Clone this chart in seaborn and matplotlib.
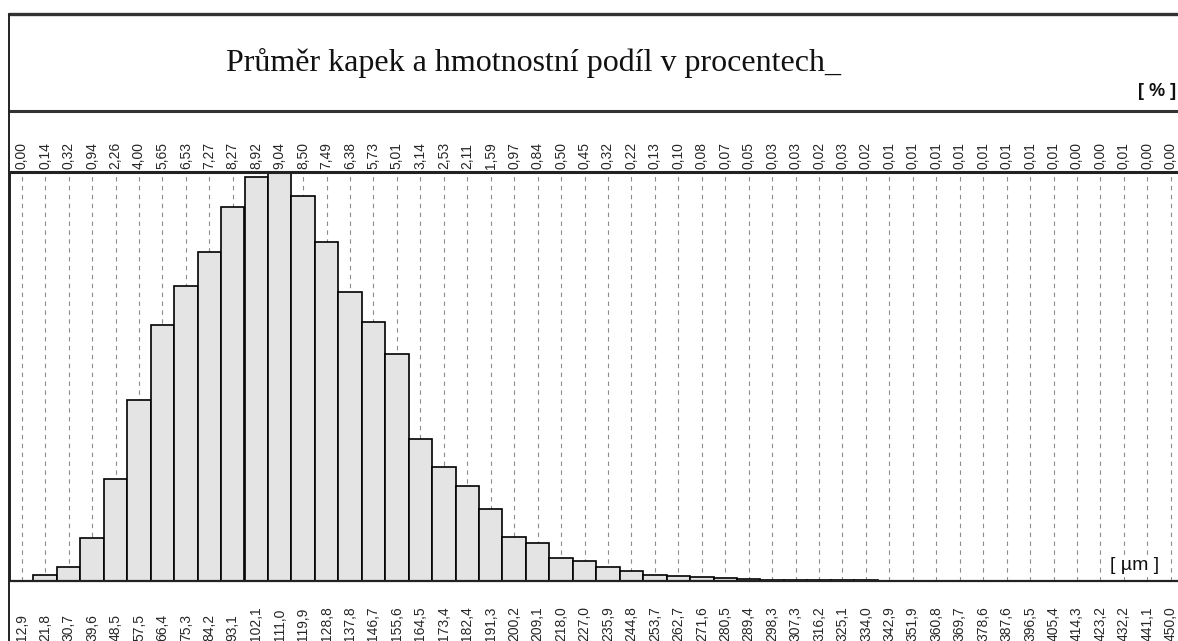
import pandas as pd
import matplotlib
matplotlib.use("Agg")
import matplotlib.pyplot as plt
from matplotlib.lines import Line2D
import seaborn as sns

# class diameters [um] (bottom labels)
diameters = [12.9, 21.8, 30.7, 39.6, 48.5, 57.5, 66.4, 75.3, 84.2, 93.1,
             102.1, 111.0, 119.9, 128.8, 137.8, 146.7, 155.6, 164.5, 173.4, 182.4,
             191.3, 200.2, 209.1, 218.0, 227.0, 235.9, 244.8, 253.7, 262.7, 271.6,
             280.5, 289.4, 298.3, 307.3, 316.2, 325.1, 334.0, 342.9, 351.9, 360.8,
             369.7, 378.6, 387.6, 396.5, 405.4, 414.3, 423.2, 432.2, 441.1, 450.0]

# mass fraction [%] (top labels / bar heights)
mass_pct = [0.00, 0.14, 0.32, 0.94, 2.26, 4.00, 5.65, 6.53, 7.27, 8.27,
            8.92, 9.04, 8.50, 7.49, 6.38, 5.73, 5.01, 3.14, 2.53, 2.11,
            1.59, 0.97, 0.84, 0.50, 0.45, 0.32, 0.22, 0.13, 0.10, 0.08,
            0.07, 0.05, 0.03, 0.03, 0.02, 0.03, 0.02, 0.01, 0.01, 0.01,
            0.01, 0.01, 0.01, 0.01, 0.01, 0.00, 0.00, 0.01, 0.00, 0.00]

title = "Průměr kapek a hmotnostní podíl v procentech_"

d_labels = [f"{d:.1f}".replace(".", ",") for d in diameters]
p_labels = [f"{p:.2f}".replace(".", ",") for p in mass_pct]

df = pd.DataFrame({"diameter": d_labels, "pct": mass_pct})

sns.set_theme(style="white")
plt.rcParams["font.family"] = ["Liberation Sans", "DejaVu Sans"]

W, H = 1178, 641
fig = plt.figure(figsize=(W / 100, H / 100), dpi=100)
ax = fig.add_axes([10 / W, 60 / H, 1172.5 / W, 409 / H])

sns.barplot(data=df, x="diameter", y="pct", order=d_labels, width=1.0,
            color="#e4e4e4", saturation=1, edgecolor="black", linewidth=1.2, ax=ax)

ax.set_xlim(-0.5, len(d_labels) - 0.5)
ax.set_ylim(0, max(mass_pct))
ax.set_yticks([])
ax.set_xlabel("")
ax.set_ylabel("")

# dashed vertical grid at class centres
ax.set_axisbelow(True)
ax.grid(axis="x", color="#8c8c8c", linestyle=(0, (4, 4)), linewidth=0.8)

# bottom labels (diameters)
ax.set_xticks(range(len(d_labels)), labels=d_labels, rotation=90, fontsize=10)
ax.tick_params(axis="x", length=0, pad=43)
for t in ax.get_xticklabels():
    t.set_va("bottom")

# top labels (percentages)
sec = ax.secondary_xaxis("top")
sec.set_xticks(range(len(p_labels)), labels=p_labels, rotation=90, fontsize=10)
sec.tick_params(length=0, pad=2)
sec.spines["top"].set_visible(False)

for side in ["left", "bottom", "top"]:
    ax.spines[side].set_color("#222222")
ax.spines["top"].set_linewidth(2.2)
ax.spines["bottom"].set_linewidth(1.6)
ax.spines["left"].set_linewidth(1.4)
ax.spines["right"].set_visible(False)

# header frame
fig.add_artist(Line2D([9 / W, 1], [1 - 14 / H, 1 - 14 / H], transform=fig.transFigure,
                      color="#333333", linewidth=2.4))
fig.add_artist(Line2D([9 / W, 1], [1 - 111 / H, 1 - 111 / H], transform=fig.transFigure,
                      color="#333333", linewidth=2.2))
fig.add_artist(Line2D([9 / W, 9 / W], [0, 1 - 14 / H], transform=fig.transFigure,
                      color="#222222", linewidth=1.4))

fig.text(533 / W, 1 - 63 / H, title, ha="center", va="center",
         family=["Liberation Serif", "DejaVu Serif"], fontsize=23, color="#111111")
fig.text(1176 / W, 1 - 92 / H, "[ % ]", ha="right", va="center",
         fontsize=13, fontweight="bold", color="#111111")
fig.text(1110 / W, 1 - 566 / H, "[ µm ]", ha="left", va="center",
         fontsize=14, color="#111111",
         bbox=dict(facecolor="white", edgecolor="none", pad=1))

fig.savefig("out.png", dpi=100)
